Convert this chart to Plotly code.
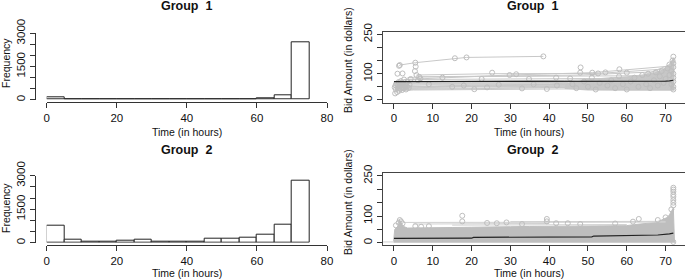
import plotly.graph_objects as go

# ---------------- data ----------------
bin_left = [0, 5, 10, 15, 20, 25, 30, 35, 40, 45, 50, 55, 60, 65, 70]
hist_g1 = [90, 40, 20, 30, 30, 30, 30, 20, 30, 30, 30, 35, 75, 215, 2595]
hist_g2 = [748, 152, 63, 63, 107, 152, 63, 63, 63, 166, 197, 210, 345, 793, 2777]

hist_xticks = [0, 20, 40, 60, 80]
hist_yticks = [0, 500, 1000, 1500, 2000, 2500, 3000]
hist_ylabels = ["0", "", "", "1500", "", "", "3000"]
sc_xticks = [0, 10, 20, 30, 40, 50, 60, 70]
sc_yticks = [0, 50, 100, 150, 200, 250]
sc_ylabels = ["0", "", "100", "", "", "250"]

# Group 1 bid paths (None separates auctions)
g1_path_x = [1.3, 1.5, 5.5, 15.7, 18.7, 38.5, None,
             0.5, 6, 20, 45, 72, None,
             1, 8, 22, 50, 72, None,
             2, 15, 35, 60, 72, None,
             0.8, 6.2, 30, 55, 72, None,
             3.5, 7, 31.5, 48, 72, None,
             0.3, 5, 25, 39.4, 72, None,
             5.8, 25.3, 52.6, 72, None,
             2.6, 29.8, 51.1, 72, None,
             4, 20, 45, 60, 72, None,
             1.6, 12.5, 40, 72, None,
             2.2, 9, 27, 50, 72, None,
             3, 18, 33, 46, 72, None,
             1.2, 10, 24, 44, 72, None,
             0.9, 15, 36, 58, 72, None,
             2.5, 20.7, 40, 72, None,
             6.5, 34.8, 60, 72]
g1_path_y = [130, 133, 142, 159, 162, 166, None,
             62, 64, 65, 67, 80, None,
             45, 48, 52, 55, 62, None,
             40, 42, 45, 48, 52, None,
             75, 78, 80, 82, 90, None,
             85, 88, 92, 95, 110, None,
             35, 38, 40, 42, 45, None,
             95, 100, 101, 120, None,
             78, 95, 104, 130, None,
             50, 56, 60, 68, 140, None,
             60, 62, 62, 70, None,
             55, 58, 58, 60, 75, None,
             52, 53, 55, 57, 100, None,
             68, 70, 72, 75, 85, None,
             50, 50, 51, 53, 58, None,
             44, 45, 47, 50, None,
             88, 89, 92, 95]

# Group 1 individual bids
g1_pts_x = [0.2, 0.4, 0.5, 0.6, 0.8, 0.9, 1.0, 1.1, 1.2, 1.3, 1.5, 1.6, 1.7, 1.8, 1.9,
            2.0, 2.1, 2.2, 2.4, 2.5, 2.6, 2.8, 3.0, 3.1, 3.3, 3.5, 3.8, 4.0, 4.3, 0.3,
            0.9, 2.2, 5.4, 5.6, 5.8, 6.5, 6.8, 6.2,
            1.3, 1.5, 5.5, 15.7, 18.7, 38.5,
            12.5, 22.6, 25.3, 29.8, 31.5, 20.7, 33, 34.8, 39.4, 41.8, 45.4, 9, 15, 18,
            27, 24, 36, 42,
            48.1, 48, 51.1, 52.6, 54.5, 58.1, 60, 46, 47, 49, 50, 51, 52, 53, 55, 56,
            57, 58, 59, 60, 61, 62, 63, 64, 65, 65.5, 66, 67, 67.5, 68, 68.5, 69,
            69.5, 70, 70.5, 71, 71, 71.5, 71.5, 71.8, 72, 72, 72, 72, 72, 72, 72, 72]
g1_pts_y = [48, 55, 40, 62, 30, 50, 58, 45, 68, 35, 52, 60, 42, 72, 55,
            48, 38, 64, 56, 44, 78, 50, 60, 40, 52, 70, 46, 58, 80, 25,
            100, 101, 110, 127, 95, 88, 82, 75,
            130, 133, 142, 159, 162, 166,
            85, 80, 104, 95, 98, 41, 44, 80, 42, 85, 82, 60, 50, 55,
            58, 48, 60, 55,
            124, 104, 104, 101, 105, 117, 104, 60, 45, 70, 50, 85, 40, 65, 55, 75,
            45, 90, 60, 40, 70, 85, 50, 95, 60, 100, 45, 75, 105, 55, 90, 110,
            65, 80, 120, 95, 135, 60, 110, 150, 165, 140, 125, 100, 85, 70, 50, 40]

# Group 1 dense region near the auction end
g1_dense_x = [44, 50, 55, 60, 64, 67, 69, 70.5, 71.5, 72, 72.3, 72.3, 60, 50, 44]
g1_dense_y = [62, 80, 86, 90, 97, 105, 115, 128, 150, 162, 162, 35, 35, 36, 42]

g1_mean_x = [0, 10, 20, 30, 40, 50, 60, 70, 71, 72]
g1_mean_y = [70, 70, 70, 70.5, 71, 71, 71.5, 72, 73, 75]

# Group 2 dense cloud upper edge
g2_top_x = [-0.1, 0.2, 1, 1.5, 2, 2.6, 3.5, 5, 10, 15, 20, 25, 30, 35, 40, 45, 50,
            55, 60, 62, 65, 67, 68.5, 69.5, 70.5, 71, 71.5, 72, 72.3]
g2_top_y = [5, 50, 62, 82, 70, 60, 55, 55, 56, 57, 58, 60, 60, 61, 62, 62, 62,
            63, 64, 68, 72, 75, 82, 90, 95, 105, 120, 130, 0]

g2_path_x = [2.5, 70, None, 30, 70, None, 5, 40, None, -2.8, 0, None, 15, 60]
g2_path_y = [76, 77, None, 79, 80, None, 70, 72, None, 3, 3, None, 66, 68]

g2_pts_x = [1.5, 1.8, 1.2, 2.2, 17.6, 17.6, 24, 26.5, 29, 33, 39.4, 39.4, 41.8, 44.8,
            48, 57, 61.6, 63.1, 68, 70, 71.5, 72, 72, 72, 72, 72, 72, 72, 72, 72,
            0.5, 5.5, 7, 9]
g2_pts_y = [85, 80, 75, 72, 101, 80, 74, 73, 76, 70, 89, 80, 73, 73,
            70, 72, 79, 89, 85, 95, 125, 206, 199, 191, 180, 172, 160, 150, 140, 3,
            65, 62, 60, 62]

g2_mean_x = [0, 10, 20, 20.5, 35, 51, 51.5, 63, 68, 71, 72]
g2_mean_y = [16, 16.5, 17, 20, 21, 22, 25, 27, 29, 33, 36]

titles = ["Group\u00a0 1", "Group\u00a0 2"]
xlabel = "Time (in hours)"
ylabel_hist = "Frequency"
ylabel_sc = "Bid Amount (in dollars)"

# ---------------- layout helpers ----------------
W, H = 685, 280
FONT = "Liberation Sans, Arial, sans-serif"
AX = "#333333"
GRAY = "#bebebe"


def fx(px):
    return px / W


def fy(py):
    return 1 - py / H


fig = go.Figure()

centers = [b + 2.5 for b in bin_left]
for vals, xa, ya in [(hist_g1, "x", "y"), (hist_g2, "x3", "y3")]:
    fig.add_trace(go.Bar(x=centers, y=vals, width=5, xaxis=xa, yaxis=ya,
                         marker=dict(color="white", line=dict(color="#222222", width=1)),
                         showlegend=False, hoverinfo="skip"))

# group 1 scatter
fig.add_trace(go.Scatter(x=g1_dense_x, y=g1_dense_y, fill="toself", mode="none",
                         fillcolor="#c6c6c6", xaxis="x2", yaxis="y2", showlegend=False))
fig.add_trace(go.Scatter(x=g1_path_x, y=g1_path_y, mode="lines", connectgaps=False,
                         line=dict(color="#c8c8c8", width=1), xaxis="x2", yaxis="y2",
                         showlegend=False))
fig.add_trace(go.Scatter(x=g1_pts_x, y=g1_pts_y, mode="markers",
                         marker=dict(symbol="circle-open", size=5, color=GRAY,
                                     line=dict(width=1)),
                         xaxis="x2", yaxis="y2", showlegend=False))
fig.add_trace(go.Scatter(x=g1_mean_x, y=g1_mean_y, mode="lines",
                         line=dict(color="#222222", width=1.2), xaxis="x2", yaxis="y2",
                         showlegend=False))

# group 2 scatter
fig.add_trace(go.Scatter(x=g2_top_x, y=g2_top_y, fill="tozeroy", mode="lines",
                         line=dict(color=GRAY, width=1), fillcolor=GRAY,
                         xaxis="x4", yaxis="y4", showlegend=False))
fig.add_trace(go.Scatter(x=g2_path_x, y=g2_path_y, mode="lines", connectgaps=False,
                         line=dict(color="#d0d0d0", width=1), xaxis="x4", yaxis="y4",
                         showlegend=False))
fig.add_trace(go.Scatter(x=g2_pts_x, y=g2_pts_y, mode="markers",
                         marker=dict(symbol="circle-open", size=5, color=GRAY,
                                     line=dict(width=1)),
                         xaxis="x4", yaxis="y4", showlegend=False))
fig.add_trace(go.Scatter(x=g2_mean_x, y=g2_mean_y, mode="lines",
                         line=dict(color="#222222", width=1.2), xaxis="x4", yaxis="y4",
                         showlegend=False))

tickfont = dict(family=FONT, size=11.5, color="#111111")
common = dict(showgrid=False, zeroline=False, showline=True, linecolor=AX, linewidth=1,
              ticks="outside", ticklen=5, tickcolor=AX, tickwidth=1, tickfont=tickfont,
              fixedrange=True, automargin=False)

hist_x = dict(common, range=[0, 80], tickvals=hist_xticks, ticktext=[str(v) for v in hist_xticks],
              domain=[fx(46.7), fx(327)], anchor="free")
hist_y = dict(common, range=[0, 3000], tickvals=hist_yticks, ticktext=hist_ylabels,
              tickangle=-90, anchor="free", position=fx(35))
sc_x = dict(common, range=[-2.88, 74.88], tickvals=sc_xticks, ticktext=[str(v) for v in sc_xticks],
            domain=[fx(382.8), fx(684.5)], mirror=True, linecolor="#444444")
sc_y = dict(common, range=[-10, 260], tickvals=sc_yticks, ticktext=sc_ylabels,
            tickangle=-90, mirror=True, linecolor="#444444")

fig.update_layout(
    width=W, height=H, autosize=False, margin=dict(l=0, r=0, t=0, b=0, pad=0),
    paper_bgcolor="white", plot_bgcolor="white", showlegend=False,
    font=dict(family=FONT, color="#111111"),
    bargap=0,
    xaxis=dict(hist_x, position=fy(102.3)),
    yaxis=dict(hist_y, domain=[fy(99.7), fy(33.3)]),
    xaxis3=dict(hist_x, position=fy(245)),
    yaxis3=dict(hist_y, domain=[fy(242.7), fy(175.7)]),
    xaxis2=dict(sc_x, anchor="y2"),
    yaxis2=dict(sc_y, anchor="x2", domain=[fy(102.6), fy(31.7)]),
    xaxis4=dict(sc_x, anchor="y4"),
    yaxis4=dict(sc_y, anchor="x4", domain=[fy(245.4), fy(173.3)]),
)

ann = []
def text(s, x, y, size, bold=False, angle=0):
    ann.append(dict(text=f"<b>{s}</b>" if bold else s, x=fx(x), y=fy(y), xref="paper",
                    yref="paper", showarrow=False, xanchor="center", yanchor="middle",
                    textangle=angle, font=dict(family=FONT, size=size, color="#111111")))

text(titles[0], 187, 6, 12.5, True)
text(titles[1], 187, 150, 12.5, True)
text(titles[0], 532, 6, 12.5, True)
text(titles[1], 532, 150, 12.5, True)
text(xlabel, 187, 131.5, 10.5)
text(xlabel, 187, 273, 10.5)
text(xlabel, 529, 131.5, 10.5)
text(xlabel, 529, 273, 10.5)
text(ylabel_hist, 6, 63, 10.5, angle=-90)
text(ylabel_hist, 6, 208, 10.5, angle=-90)
text(ylabel_sc, 348, 60, 10.5, angle=-90)
text(ylabel_sc, 348, 202, 10.5, angle=-90)
fig.update_layout(annotations=ann)

fig.write_html("out.html", config={"responsive": False, "displayModeBar": False},
               post_script="document.body.style.margin='0';document.body.style.overflow='hidden';")
